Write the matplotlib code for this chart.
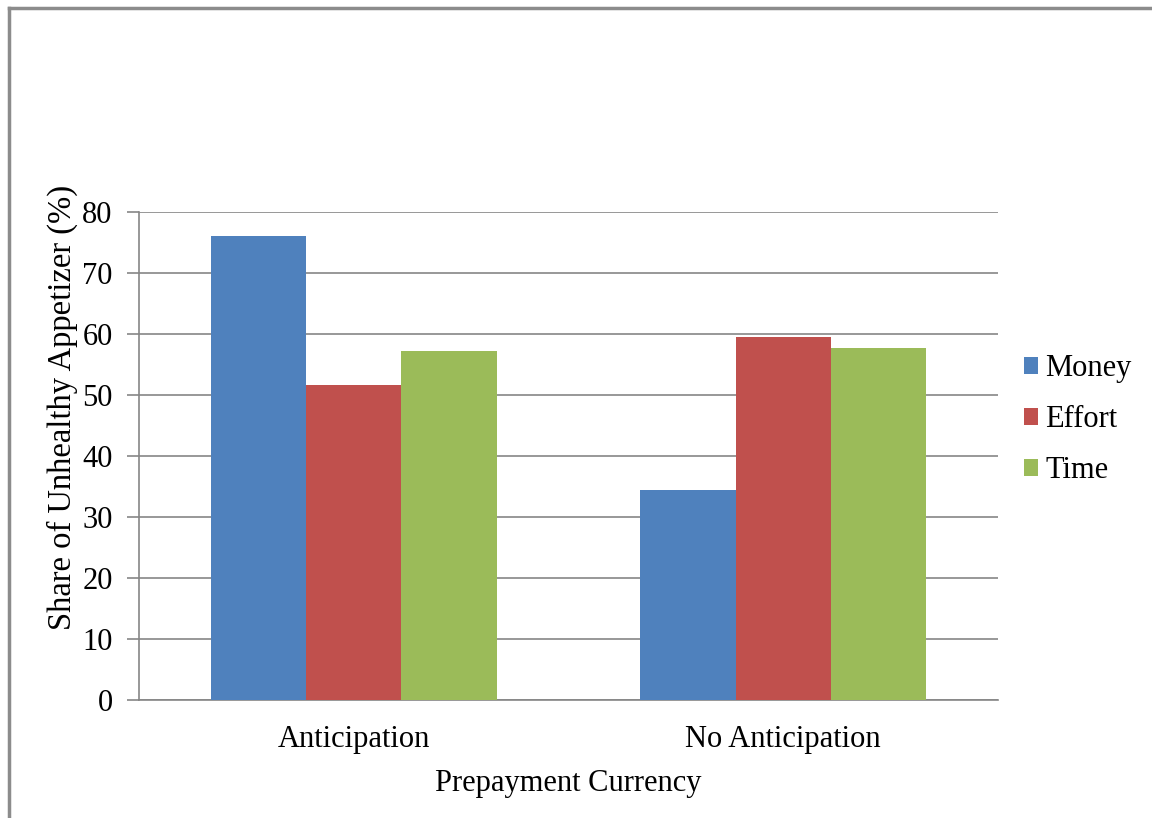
#!/usr/bin/env python3
import numpy as np
import matplotlib.pyplot as plt
from matplotlib.lines import Line2D

plt.rc('font', family='Liberation Serif')

categories = ['Anticipation', 'No Anticipation']
series = ['Money', 'Effort', 'Time']
money = [76.0, 34.4]
effort = [51.6, 59.5]
time_ = [57.2, 57.7]
colors = ['#4F81BD', '#C0504D', '#9BBB59']


def plot_bars(fontsize=22):
    fig = plt.figure(figsize=(11.52, 8.18), dpi=100)
    ax = fig.add_axes([0.1207, 0.1443, 0.7456, 0.5965])

    x = np.arange(len(categories))
    width = 1 / 4.5
    for i, (name, vals) in enumerate(zip(series, [money, effort, time_])):
        ax.bar(x + (i - 1) * width, vals, width, color=colors[i], label=name,
               zorder=3)

    ax.set_xlim(-0.5, 1.5)
    ax.set_ylim(0, 80)
    ax.set_yticks(range(0, 81, 10))
    ax.set_xticks(x)
    ax.set_xticklabels(categories)
    ax.yaxis.grid(True, color='#868686', linewidth=1.2, zorder=0)
    ax.set_axisbelow(True)

    for s in ['top', 'right']:
        ax.spines[s].set_visible(False)
    for s in ['left', 'bottom']:
        ax.spines[s].set_color('#868686')
        ax.spines[s].set_linewidth(1.2)

    ax.tick_params(axis='y', length=9, width=1.2, color='#868686', pad=10,
                   labelsize=fontsize)
    ax.tick_params(axis='x', length=0, pad=18, labelsize=fontsize)

    ax.set_ylabel('Share of Unhealthy Appetizer (%)', fontsize=23.5)
    ax.yaxis.set_label_coords(-0.071, 0.60)
    ax.set_xlabel('Prepayment Currency', fontsize=fontsize, labelpad=11)

    ax.legend(loc='center left', bbox_to_anchor=(0.998, 0.574), frameon=False,
              fontsize=fontsize, handlelength=0.45, handleheight=0.45,
              handletextpad=0.25, labelspacing=0.72)

    # outer border of the chart area
    fig.add_artist(Line2D([0.008, 0.008], [0, 0.99], transform=fig.transFigure,
                          color='#8c8c8c', linewidth=2.5))
    fig.add_artist(Line2D([0.008, 1.0], [0.99, 0.99], transform=fig.transFigure,
                          color='#8c8c8c', linewidth=2.5))
    return fig


def main():
    fig = plot_bars()
    fig.savefig('out.png', dpi=100)


if __name__ == '__main__':
    main()
